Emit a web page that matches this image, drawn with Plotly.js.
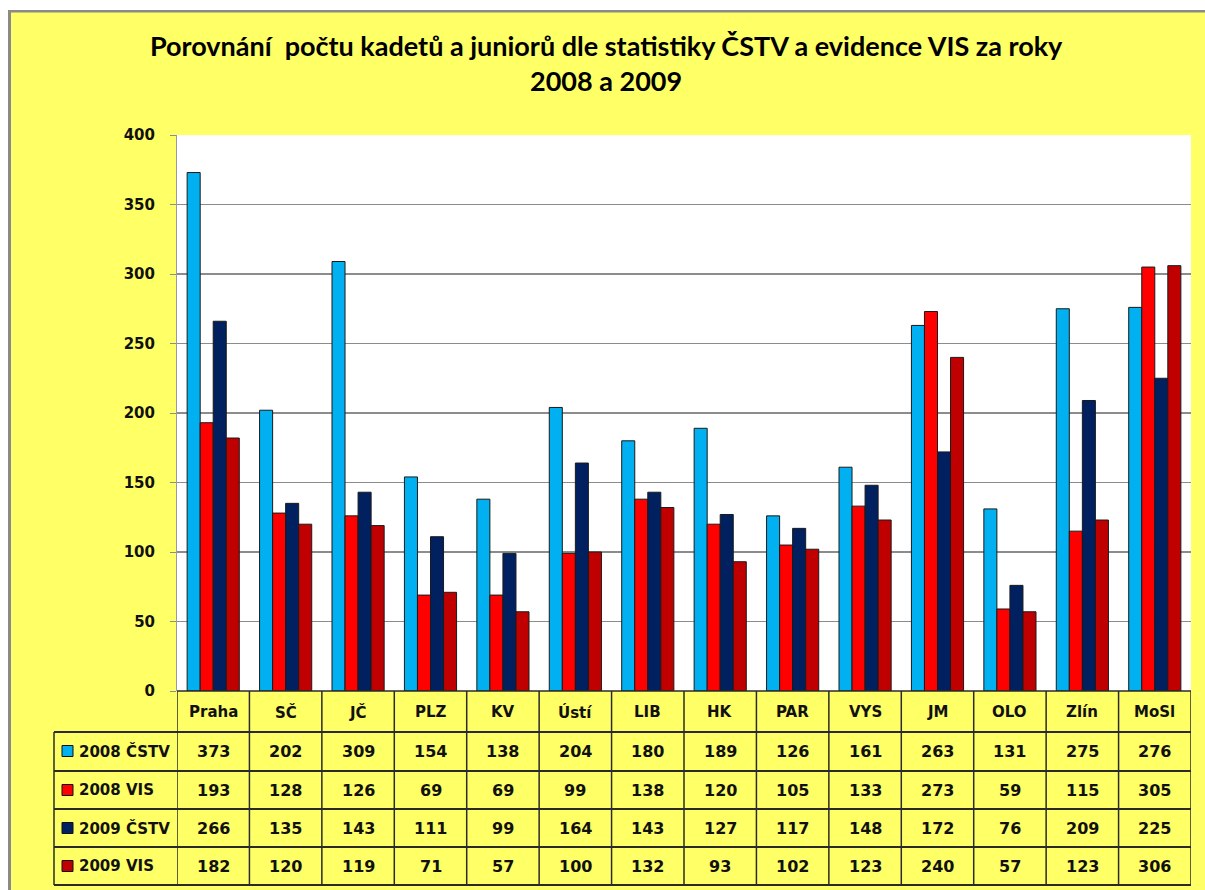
<!DOCTYPE html>
<html>
<head>
<meta charset="utf-8">
<script src="https://cdn.plot.ly/plotly-3.0.1.min.js"></script>
<style>html,body{margin:0;padding:0;background:#fff;}#chart{width:1205px;height:890px;}</style>
</head>
<body>
<div id="chart"></div>
<script>
const categories = ["Praha","SČ","JČ","PLZ","KV","Ústí","LIB","HK","PAR","VYS","JM","OLO","Zlín","MoSl"];
const seriesNames = ["2008 ČSTV","2008 VIS","2009 ČSTV","2009 VIS"];
const cstv2008 = [373,202,309,154,138,204,180,189,126,161,263,131,275,276];
const vis2008  = [193,128,126,69,69,99,138,120,105,133,273,59,115,305];
const cstv2009 = [266,135,143,111,99,164,143,127,117,148,172,76,209,225];
const vis2009  = [182,120,119,71,57,100,132,93,102,123,240,57,123,306];
const colors = ["#00B0F0","#FF0000","#002060","#C00000"];
const allSeries = [cstv2008, vis2008, cstv2009, vis2009];

const traces = allSeries.map((vals, i) => ({
  type: 'bar', name: seriesNames[i], x: categories, y: vals,
  marker: {color: colors[i], line: {color: '#1a1a1a', width: 1}},
  hoverinfo: 'x+y+name'
}));

const W = 1205, H = 890, L = 177, R = 14, T = 135, B = 199;
const PW = W - L - R, PH = H - T - B;
const py = p => (H - B - p) / PH;      // pixel y -> paper y
const px = p => (p - L) / PW;          // pixel x -> paper x
const FONT = "DejaVu Sans";
const lineCol = '#2a2a2a';

const rowLines = [732, 771, 809, 847, 885];
const rowCenters = [751, 790, 828, 866];
const catCenterY = 712;

const shapes = [];
const annotations = [];

// outer border (gray) and white strips
shapes.push({type:'rect', xref:'paper', yref:'paper', x0:px(0), x1:px(W), y0:py(0), y1:py(10), fillcolor:'#ffffff', line:{width:0}, layer:'below'});
shapes.push({type:'rect', xref:'paper', yref:'paper', x0:px(0), x1:px(8), y0:py(0), y1:py(H), fillcolor:'#ffffff', line:{width:0}, layer:'below'});
shapes.push({type:'rect', xref:'paper', yref:'paper', x0:px(8), x1:px(W), y0:py(10), y1:py(12.5), fillcolor:'#8a8a8a', line:{width:0}, layer:'below'});
shapes.push({type:'rect', xref:'paper', yref:'paper', x0:px(8), x1:px(11), y0:py(10), y1:py(H), fillcolor:'#8a8a8a', line:{width:0}, layer:'below'});

// table horizontal lines
shapes.push({type:'line', xref:'paper', yref:'paper', x0:0, x1:1, y0:py(691), y1:py(691), line:{color:lineCol, width:1.5}});
rowLines.forEach(r => {
  shapes.push({type:'line', xref:'paper', yref:'paper', x0:px(54), x1:1, y0:py(r), y1:py(r), line:{color:lineCol, width:1.8}});
});
// table vertical lines
shapes.push({type:'line', xref:'paper', yref:'paper', x0:px(54), x1:px(54), y0:py(732), y1:py(885), line:{color:lineCol, width:1.5}});
for (let i = 0; i <= categories.length; i++) {
  shapes.push({type:'line', xref:'x', yref:'paper', x0:i-0.5, x1:i-0.5, y0:py(691), y1:py(885), line:{color:lineCol, width:1.5}});
}

// category names
categories.forEach((c, i) => {
  annotations.push({xref:'x', yref:'paper', x:i, y:py(catCenterY), text:c, showarrow:false,
    font:{family:FONT, size:15, color:'#111', weight:'bold'}, xanchor:'center', yanchor:'middle'});
});
// values + legend keys
allSeries.forEach((vals, s) => {
  const yc = py(rowCenters[s]);
  shapes.push({type:'rect', xref:'paper', yref:'paper', x0:px(62), x1:px(73), y0:py(rowCenters[s]+5.5), y1:py(rowCenters[s]-5.5),
    fillcolor:colors[s], line:{color:'#111', width:1}});
  annotations.push({xref:'paper', yref:'paper', x:px(77), y:yc, text:seriesNames[s], showarrow:false,
    font:{family:FONT, size:15, color:'#111', weight:'bold'}, xanchor:'left', yanchor:'middle'});
  vals.forEach((v, i) => {
    annotations.push({xref:'x', yref:'paper', x:i, y:yc, text:String(v), showarrow:false,
      font:{family:FONT, size:16, color:'#111', weight:'bold'}, xanchor:'center', yanchor:'middle'});
  });
});

const layout = {
  width: W, height: H,
  margin: {l: L, r: R, t: T, b: B, pad: 0},
  paper_bgcolor: '#FFFF66',
  plot_bgcolor: '#FFFFFF',
  barmode: 'group', bargap: 0.28, bargroupgap: 0,
  showlegend: false,
  title: {
    text: 'Porovnání  počtu kadetů a juniorů dle statistiky ČSTV a evidence VIS za roky<br>2008 a 2009',
    font: {family: 'Lato', size: 27, color: '#000', weight: 'bold'},
    x: 0.503, xanchor: 'center', y: 0.937, yanchor: 'top'
  },
  xaxis: {type:'category', showticklabels:false, showgrid:false, zeroline:false, showline:false, ticks:'', range:[-0.5, categories.length-0.5], fixedrange:true},
  yaxis: {range:[0,400], dtick:50, showgrid:true, gridcolor:'#8c8c8c', gridwidth:1.3, zeroline:false,
    showline:true, linecolor:'#9a9a9a', linewidth:1, ticks:'outside', ticklen:6, tickcolor:'#8c8c8c',
    ticklabelstandoff: 12,
    tickfont:{family:FONT, size:15, color:'#111', weight:'bold'}, fixedrange:true},
  shapes: shapes,
  annotations: annotations
};

Plotly.newPlot('chart', traces, layout, {displayModeBar:false, staticPlot:true});
</script>
</body>
</html>
